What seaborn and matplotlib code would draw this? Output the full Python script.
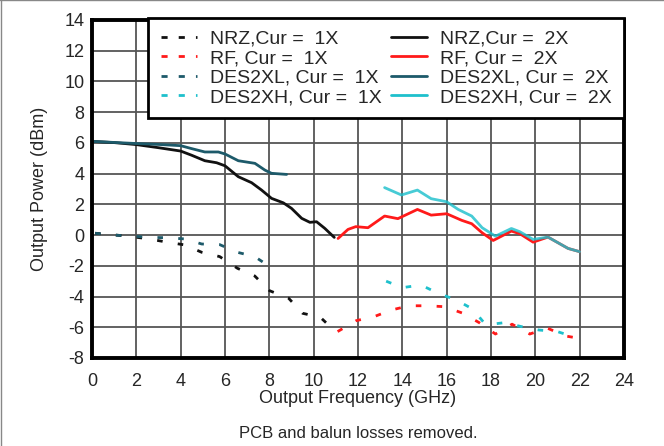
import matplotlib
matplotlib.use("Agg")
import matplotlib.pyplot as plt
import seaborn as sns
import pandas as pd
from matplotlib.lines import Line2D

# ---- data ----
nrz2_x = [0, 1, 2, 2.99, 4, 4.49, 5.09, 5.62, 6, 6.6, 7.2, 7.65, 8.1, 8.63, 9.0, 9.46, 9.83, 10.13, 10.5, 10.93]
nrz2_y = [6.1, 6.02, 5.89, 5.69, 5.47, 5.2, 4.84, 4.71, 4.51, 3.8, 3.41, 2.93, 2.39, 2.1, 1.74, 1.09, 0.83, 0.87, 0.44, -0.15]

xl2_x = [0, 1, 2, 3, 4, 4.49, 5.09, 5.7, 6, 6.6, 7.35, 7.8, 8.1, 8.78]
xl2_y = [6.1, 6.03, 5.96, 5.9, 5.82, 5.63, 5.41, 5.41, 5.28, 4.84, 4.67, 4.23, 4.02, 3.95]

rf2_x = [11.1, 11.55, 11.9, 12.45, 13.2, 13.8, 14.68, 15.3, 16.0, 16.68, 17.13, 17.6, 18.1, 18.92, 19.3, 19.9, 20.57, 21.48, 22.0]
rf2_y = [-0.22, 0.37, 0.55, 0.48, 1.24, 1.07, 1.67, 1.3, 1.39, 0.96, 0.74, 0.15, -0.35, 0.26, 0.09, -0.46, -0.13, -0.87, -1.08]

xh2_x = [13.2, 13.96, 14.68, 15.3, 16.0, 16.52, 17.13, 17.6, 18.2, 18.92, 19.3, 19.9, 20.57, 21.48, 22.0]
xh2_y = [3.09, 2.61, 2.93, 2.37, 2.17, 1.67, 1.24, 0.48, -0.07, 0.43, 0.22, -0.28, -0.13, -0.87, -1.08]

nrz1_x = [0.14, 0.95, 1.78, 2.58, 3.38, 4.19, 4.95, 5.76, 6.56, 7.34, 8.01, 8.87, 9.5, 10.3, 10.94]
nrz1_y = [0.12, 0.02, -0.1, -0.25, -0.46, -0.64, -1.12, -1.4, -2.16, -2.66, -3.62, -4.11, -5.09, -5.35, -6.22]

xl1_x = [0.14, 0.95, 1.78, 2.58, 3.38, 4.19, 4.95, 5.76, 6.56, 7.34, 8.13]
xl1_y = [0.12, 0.0, -0.06, -0.15, -0.17, -0.25, -0.58, -0.62, -1.12, -1.4, -2.16]

rf1_x = [11.08, 11.92, 12.74, 13.5, 14.3, 15.1, 15.9, 16.7, 17.47, 18.2, 18.95, 19.75, 20.53, 21.37, 21.9]
rf1_y = [-6.28, -5.57, -5.3, -4.88, -4.6, -4.6, -4.66, -5.07, -5.7, -6.44, -5.8, -6.44, -6.05, -6.57, -6.7]

xh1_x = [13.27, 14.0, 14.84, 15.62, 16.42, 17.16, 17.77, 18.6, 19.35, 20.17, 20.99, 21.75]
xh1_y = [-3.0, -3.42, -3.25, -3.79, -4.22, -4.8, -5.85, -5.7, -5.95, -6.18, -6.28, -6.63]

x_ticks = list(range(0, 25, 2))
y_ticks = list(range(-8, 15, 2))

labels_1x = ["NRZ,Cur =  1X", "RF, Cur =  1X", "DES2XL, Cur =  1X", "DES2XH, Cur =  1X"]
labels_2x = ["NRZ,Cur =  2X", "RF, Cur =  2X", "DES2XL, Cur =  2X", "DES2XH, Cur =  2X"]
colors = ["#111111", "#ff1a1a", "#1d5a6a", "#1ec0cc"]
alphas = [1.0, 1.0, 1.0, 0.82]

sns.set_style("white")
plt.rcParams["font.family"] = ["Liberation Sans", "DejaVu Sans"]
plt.rcParams["axes.unicode_minus"] = False

fig = plt.figure(figsize=(6.64, 4.46), dpi=100)
ax = fig.add_axes([92/664, 1 - 358/446, (624 - 92)/664, (358 - 20)/446])

series_1x = [(nrz1_x, nrz1_y), (rf1_x, rf1_y), (xl1_x, xl1_y), (xh1_x, xh1_y)]
series_2x = [(nrz2_x, nrz2_y), (rf2_x, rf2_y), (xl2_x, xl2_y), (xh2_x, xh2_y)]

for (xs, ys), c, a, lab in zip(series_2x, colors, alphas, labels_2x):
    df = pd.DataFrame({"x": xs, "y": ys})
    sns.lineplot(data=df, x="x", y="y", ax=ax, color=c, alpha=a, lw=2.0, sort=False,
                 estimator=None, label=lab, legend=False)

for (xs, ys), c, lab in zip(series_1x, colors, labels_1x):
    df = pd.DataFrame({"x": xs, "y": ys})
    sns.lineplot(data=df, x="x", y="y", ax=ax, color=c, lw=2.0, sort=False,
                 estimator=None, label=lab, legend=False, dashes=False,
                 linestyle=(0, (2.0, 5.5)))

ax.set_xlim(0, 24)
ax.set_ylim(-8, 14)
ax.set_xticks(x_ticks)
ax.set_yticks(y_ticks)
ax.tick_params(labelsize=13, length=0)
ax.tick_params(axis="y", pad=5.5)
ax.tick_params(axis="x", pad=11)
ax.grid(True, color="#555555", lw=1.3)
ax.set_axisbelow(True)
for s in ax.spines.values():
    s.set_visible(True)
    s.set_color("black")
    s.set_linewidth(2.8)
ax.set_xlabel("Output Frequency (GHz)", fontsize=13, labelpad=0)
ax.set_ylabel("Output Power (dBm)", fontsize=13, labelpad=12)

handles = [Line2D([], [], color=c, lw=2, linestyle=(0, (2.2, 4.0))) for c in colors] + \
          [Line2D([], [], color=c, lw=2) for c in colors]
leg = ax.legend(handles, labels_1x + labels_2x, ncol=2, loc="upper right",
                bbox_to_anchor=(1.0, 1.006), fontsize=14, frameon=True,
                fancybox=False, framealpha=1, edgecolor="black",
                handlelength=1.85, columnspacing=0.45, labelspacing=0.1,
                handletextpad=0.7, borderpad=0.62, borderaxespad=0)
leg.get_frame().set_linewidth(2)
leg.set_zorder(10)

fig.text((92 + 625) / 2 / 664, 1 - 433/446, "PCB and balun losses removed.",
         ha="center", va="center", fontsize=12)

fig.add_artist(Line2D([0.001, 0.001], [0, 1], color="#888888", lw=1, transform=fig.transFigure))
fig.add_artist(Line2D([0, 1], [0.999, 0.999], color="#888888", lw=1, transform=fig.transFigure))

fig.savefig("out.png", dpi=100)
